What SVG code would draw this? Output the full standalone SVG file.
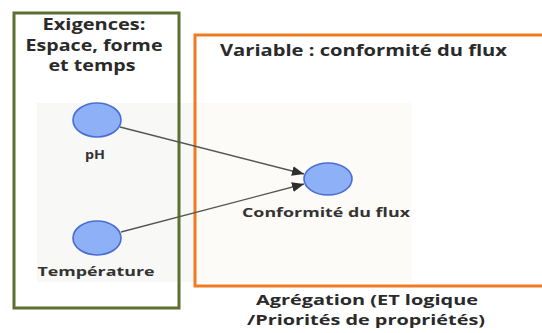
<svg xmlns="http://www.w3.org/2000/svg" width="542" height="333" viewBox="0 0 542 333">
<defs>
<style>
.t{font-family:"Open Sans","Liberation Sans",sans-serif;font-weight:700;fill:#2a2a2a;}
.big{font-size:16px;}
.agg{font-size:14.5px;}
.small{font-size:11.5px;fill:#333;}
.node{fill:#8db0f6;stroke:#4a6dd2;stroke-width:1.6;}
.edge{stroke:#555;stroke-width:1.3;fill:none;}
</style>
<marker id="arr" viewBox="0 0 12 10" refX="12" refY="5" markerWidth="12" markerHeight="10" markerUnits="userSpaceOnUse" orient="auto">
<path d="M0,0 L12,5 L0,10 z" fill="#2e2e2e"/>
</marker>
</defs>
<rect width="542" height="333" fill="#ffffff"/>
<rect x="37" y="103" width="375" height="179" fill="#f8f8f6"/>
<rect x="196" y="103" width="216" height="179" fill="#fdfbf8"/>
<g id="box-exigences">
<rect x="14" y="13" width="165" height="295" fill="none" stroke="#5b7032" stroke-width="3"/>
<text class="t big" text-anchor="middle" x="94" y="30" textLength="103" lengthAdjust="spacingAndGlyphs">Exigences:</text>
<text class="t big" text-anchor="middle" x="94" y="51" textLength="137" lengthAdjust="spacingAndGlyphs">Espace, forme</text>
<text class="t big" text-anchor="middle" x="92" y="71" textLength="87" lengthAdjust="spacingAndGlyphs">et temps</text>
</g>
<g id="box-variable">
<rect x="195" y="35" width="352" height="251" fill="none" stroke="#f07a22" stroke-width="3"/>
<text class="t big" x="220" y="56" textLength="287" lengthAdjust="spacingAndGlyphs">Variable : conformité du flux</text>
</g>
<g id="connectors">
<line class="edge" x1="120" y1="127" x2="304" y2="174" marker-end="url(#arr)"/>
<line class="edge" x1="121" y1="232" x2="304" y2="184" marker-end="url(#arr)"/>
</g>
<g id="node-ph">
<ellipse class="node" cx="97" cy="120" rx="24" ry="17"/>
<text class="t small" text-anchor="middle" x="95" y="159" textLength="20" lengthAdjust="spacingAndGlyphs">pH</text>
</g>
<g id="node-temperature">
<ellipse class="node" cx="97" cy="238" rx="24" ry="17"/>
<text class="t small" text-anchor="middle" x="96" y="276" textLength="117" lengthAdjust="spacingAndGlyphs">Température</text>
</g>
<g id="node-conformite">
<ellipse class="node" cx="328" cy="179" rx="24" ry="16"/>
<text class="t small" text-anchor="middle" x="326" y="217" textLength="168" lengthAdjust="spacingAndGlyphs">Conformité du flux</text>
</g>
<g id="label-agregation">
<text class="t agg" x="256" y="305" textLength="222" lengthAdjust="spacingAndGlyphs">Agrégation (ET logique</text>
<text class="t agg" x="247" y="325" textLength="238" lengthAdjust="spacingAndGlyphs">/Priorités de propriétés)</text>
</g>
</svg>
